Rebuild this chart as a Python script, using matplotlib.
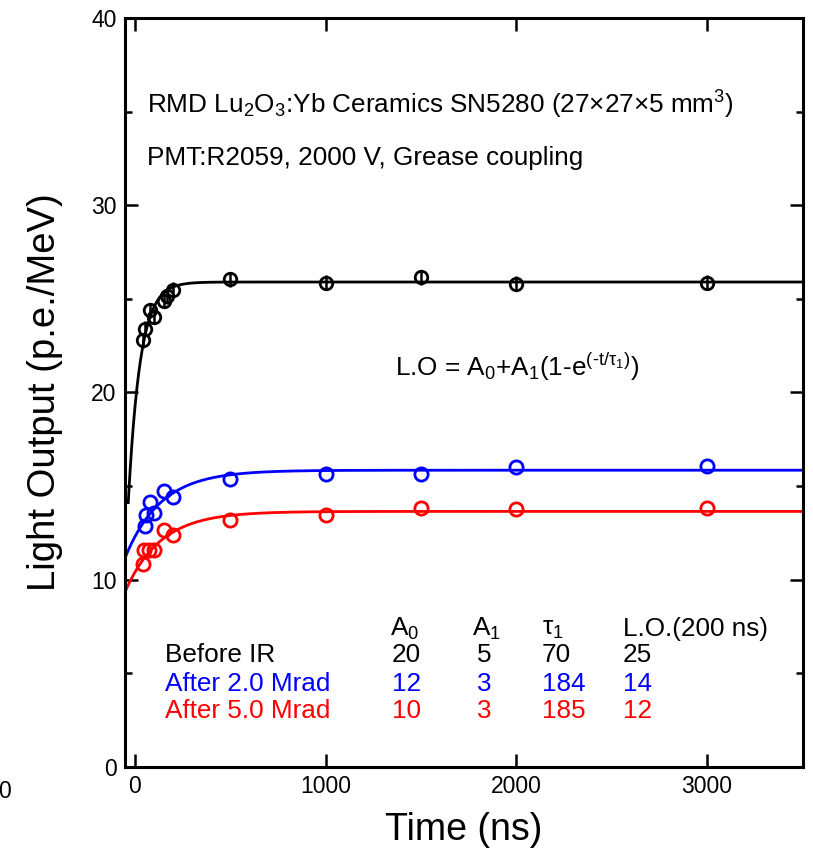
import numpy as np
import matplotlib
matplotlib.use("Agg")
import matplotlib.pyplot as plt
from matplotlib.ticker import MultipleLocator

plt.rcParams['font.family'] = ['Liberation Sans', 'DejaVu Sans']
plt.rcParams['mathtext.fontset'] = 'custom'
plt.rcParams['mathtext.rm'] = 'Liberation Sans'
plt.rcParams['mathtext.it'] = 'Liberation Sans'
plt.rcParams['mathtext.default'] = 'regular'

# ---- data ----
t_before = [45, 55, 80, 100, 150, 170, 200, 500, 1000, 1500, 2000, 3000]
lo_before = [22.8, 23.4, 24.4, 24.05, 24.9, 25.15, 25.5, 26.05, 25.85, 26.15, 25.8, 25.85]
err_before = [0.4] * len(t_before)

t_2mrad = [55, 60, 80, 100, 150, 200, 500, 1000, 1500, 2000, 3000]
lo_2mrad = [12.85, 13.45, 14.15, 13.55, 14.75, 14.4, 15.4, 15.65, 15.65, 16.0, 16.1]

t_5mrad = [45, 50, 75, 100, 150, 200, 500, 1000, 1500, 2000, 3000]
lo_5mrad = [10.85, 11.6, 11.6, 11.6, 12.65, 12.4, 13.2, 13.45, 13.85, 13.8, 13.85]

# fit parameters (A0, A1, tau1) used for the drawn curves
fit_before = (19.2, 6.7, 62.0)
fit_2mrad = (12.3, 3.55, 187.0)
fit_5mrad = (10.4, 3.25, 185.0)

# table
table_rows = ["Before IR", "After 2.0 Mrad", "After 5.0 Mrad"]
table_A0 = ["20", "12", "10"]
table_A1 = ["5", "3", "3"]
table_tau = ["70", "184", "185"]
table_LO = ["25", "14", "12"]
colors = ["black", "blue", "red"]

# ---- figure ----
W, H = 813, 849
fig = plt.figure(figsize=(W / 100, H / 100), dpi=100)
ax = fig.add_axes([125 / W, 1 - 767 / H, (803 - 125) / W, (767 - 18) / H])

def fitfunc(t, p):
    a0, a1, tau = p
    return a0 + a1 * (1 - np.exp(-t / tau))

tt = np.linspace(-60, 3600, 2000)
tt_b = np.linspace(-35, 3600, 2000)
ax.plot(tt_b, fitfunc(tt_b, fit_before), color='black', lw=2.0, zorder=2)
ax.plot(tt, fitfunc(tt, fit_2mrad), color='blue', lw=2.0, zorder=2)
ax.plot(tt, fitfunc(tt, fit_5mrad), color='red', lw=2.0, zorder=2)

ax.errorbar(t_before, lo_before, yerr=err_before, fmt='o', mfc='none', mec='black',
            ecolor='black', ms=9, mew=2.0, elinewidth=1.8, capsize=0, zorder=3)
ax.plot(t_2mrad, lo_2mrad, 'o', mfc='none', mec='blue', ms=9.5, mew=2.0, zorder=3)
ax.plot(t_5mrad, lo_5mrad, 'o', mfc='none', mec='red', ms=9.5, mew=2.0, zorder=3)

ax.set_xlim(-52, 3503)
ax.set_ylim(0, 40)
ax.xaxis.set_major_locator(MultipleLocator(1000))
ax.yaxis.set_major_locator(MultipleLocator(10))
ax.yaxis.set_minor_locator(MultipleLocator(5))
ax.tick_params(which='both', direction='in', top=True, right=True, width=1.8,
               labelsize=16.5, pad=6)
ax.tick_params(which='major', length=9.5)
ax.tick_params(which='minor', length=5)
for s in ax.spines.values():
    s.set_linewidth(2.2)

ax.set_xlabel("Time (ns)", fontsize=27, labelpad=10)
ax.set_ylabel("Light Output (p.e./MeV)", fontsize=27.5, labelpad=20)

FS = 18.8
ax.text(63, 35.35, r"RMD Lu$_2$O$_3$:Yb Ceramics SN5280 (27×27×5 mm$^3$)",
        fontsize=FS, va='center', ha='left')
ax.text(63, 32.5, "PMT:R2059, 2000 V, Grease coupling", fontsize=FS,
        va='center', ha='left')
ax.text(1364, 21.36, r"L.O = A$_0$+A$_1$(1-e$^{(‐t/τ_1)}$)", fontsize=FS,
        va='center', ha='left')

# table
hy = 7.35
ax.text(1340, hy, r"A$_0$", fontsize=FS, va='center', ha='left')
ax.text(1770, hy, r"A$_1$", fontsize=FS, va='center', ha='left')
ax.text(2135, hy, r"τ$_1$", fontsize=FS, va='center', ha='left')
ax.text(2560, hy, "L.O.(200 ns)", fontsize=FS, va='center', ha='left')
row_y = [5.98, 4.43, 2.99]
for i in range(3):
    y = row_y[i]
    c = colors[i]
    ax.text(157, y, table_rows[i], fontsize=FS, color=c, va='center', ha='left')
    ax.text(1348, y, table_A0[i], fontsize=FS, color=c, va='center', ha='left')
    ax.text(1794, y, table_A1[i], fontsize=FS, color=c, va='center', ha='left')
    ax.text(2135, y, table_tau[i], fontsize=FS, color=c, va='center', ha='left')
    ax.text(2559, y, table_LO[i], fontsize=FS, color=c, va='center', ha='left')

# stray label from a neighbouring panel
fig.text(-2 / W, 1 - 791 / H, "0", fontsize=16.5, va='center', ha='left')

fig.savefig("out.png", dpi=100)
